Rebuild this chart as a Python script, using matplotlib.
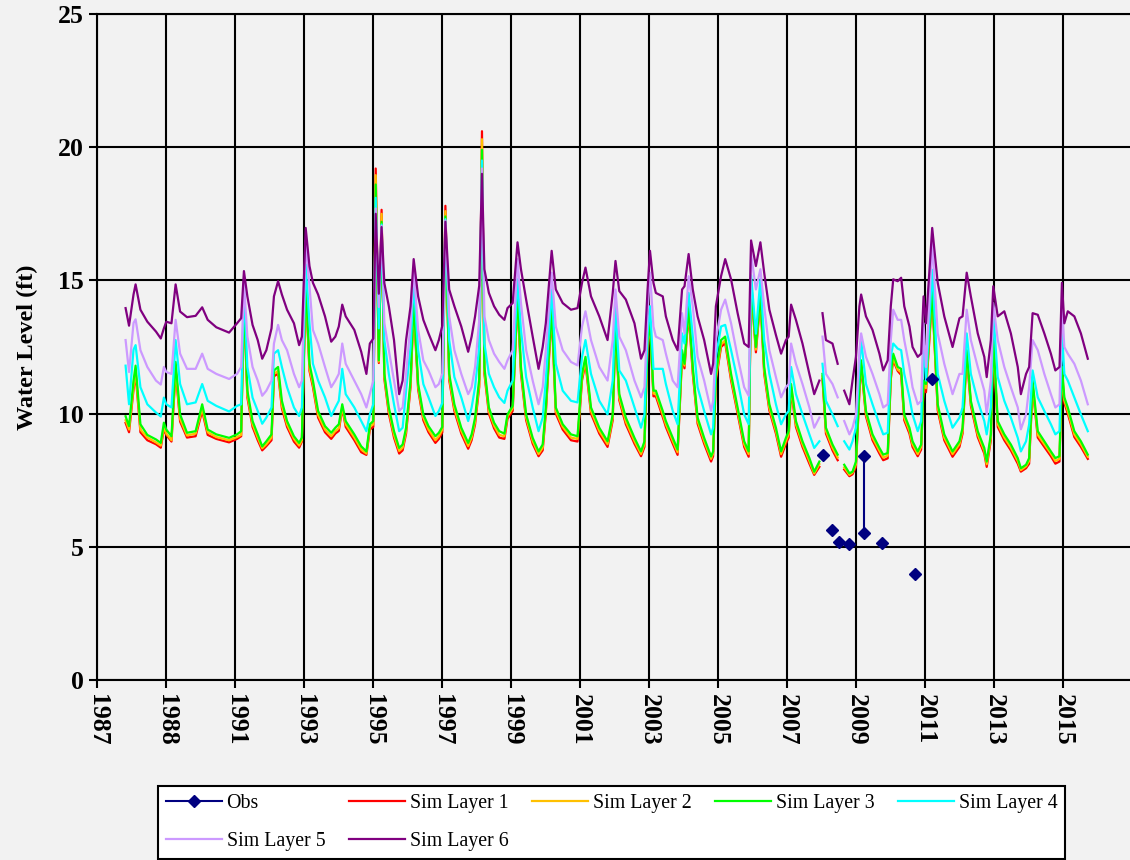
import numpy as np
import matplotlib
matplotlib.use("Agg")
import matplotlib.pyplot as plt

nan = np.nan

dates = [1987.82, 1987.92, 1988.05, 1988.11, 1988.25, 1988.45, 1988.70, 1988.84, 1988.93, 1989.00,
         1989.15, 1989.27, 1989.40, 1989.60, 1989.85, 1990.04, 1990.20, 1990.45, 1990.82, 1991.05,
         1991.17, 1991.25, 1991.35, 1991.50, 1991.65, 1991.78, 1991.90, 1992.05, 1992.12, 1992.24,
         1992.35, 1992.50, 1992.70, 1992.85, 1992.93, 1993.04, 1993.15, 1993.25, 1993.40, 1993.60,
         1993.78, 1993.90, 1994.00, 1994.10, 1994.20, 1994.45, 1994.65, 1994.80, 1994.90, 1995.00,
         1995.07, 1995.16, 1995.24, 1995.32, 1995.45, 1995.60, 1995.75, 1995.85, 1995.95, 1996.08,
         1996.17, 1996.30, 1996.45, 1996.60, 1996.80, 1996.90, 1997.00, 1997.09, 1997.20, 1997.35,
         1997.55, 1997.75, 1997.85, 1997.95, 1998.07, 1998.15, 1998.22, 1998.35, 1998.50, 1998.65,
         1998.80, 1998.89, 1999.04, 1999.18, 1999.28, 1999.43, 1999.62, 1999.79, 1999.91, 2000.00,
         2000.17, 2000.29, 2000.49, 2000.73, 2000.92, 2001.05, 2001.15, 2001.31, 2001.55, 2001.79,
         2001.94, 2002.02, 2002.13, 2002.32, 2002.57, 2002.76, 2002.86, 2002.95, 2003.02, 2003.12,
         2003.19, 2003.39, 2003.48, 2003.68, 2003.82, 2003.95, 2004.02, 2004.14, 2004.26, 2004.40,
         2004.59, 2004.79, 2004.85, 2004.93, 2005.08, 2005.20, 2005.37, 2005.56, 2005.75, 2005.88,
         2005.95, 2006.09, 2006.22, 2006.33, 2006.48, 2006.67, 2006.82, 2006.96, 2007.04, 2007.11,
         2007.25, 2007.44, 2007.64, 2007.78, 2007.93, 2007.97, 2008.02, 2008.12, 2008.31, 2008.46,
         2008.52, 2008.65, 2008.80, 2008.89, 2008.99, 2009.09, 2009.14, 2009.28, 2009.47, 2009.67,
         2009.78, 2009.91, 2010.00, 2010.07, 2010.20, 2010.30, 2010.39, 2010.54, 2010.63, 2010.78,
         2010.88, 2010.95, 2011.02, 2011.20, 2011.36, 2011.55, 2011.79, 2011.99, 2012.08, 2012.20,
         2012.32, 2012.52, 2012.71, 2012.78, 2012.90, 2012.97, 2013.10, 2013.29, 2013.48, 2013.68,
         2013.77, 2013.92, 2014.01, 2014.11, 2014.26, 2014.45, 2014.64, 2014.77, 2014.89, 2014.96,
         2015.03, 2015.13, 2015.32, 2015.51, 2015.71]

layer1 = [9.65, 9.30, 10.90, 11.50, 9.30, 9.00, 8.85, 8.72, 9.42, 9.20,
          8.95, 11.60, 9.70, 9.10, 9.15, 10.10, 9.20, 9.05, 8.92, 9.05,
          9.15, 14.20, 10.60, 9.50, 9.00, 8.62, 8.78, 9.00, 11.40, 11.50,
          10.20, 9.50, 8.95, 8.72, 8.95, 14.80, 11.60, 11.00, 9.85, 9.30,
          9.05, 9.25, 9.35, 10.20, 9.50, 9.00, 8.55, 8.45, 9.40, 9.50,
          19.20, 11.90, 17.65, 11.30, 10.00, 9.10, 8.50, 8.62, 9.25, 11.00,
          14.00, 10.90, 9.75, 9.30, 8.90, 9.05, 9.30, 17.80, 11.25, 10.10,
          9.25, 8.68, 9.00, 9.60, 11.00, 20.60, 11.50, 10.00, 9.45, 9.10,
          9.05, 9.80, 10.10, 14.30, 11.50, 9.75, 8.87, 8.40, 8.62, 10.00,
          13.80, 10.00, 9.40, 9.00, 8.95, 11.25, 11.90, 10.00, 9.25, 8.75,
          9.75, 13.15, 10.50, 9.60, 8.87, 8.40, 8.75, 12.60, 13.20, 10.65,
          10.65, 9.87, 9.50, 8.87, 8.45, 12.15, 11.70, 13.80, 11.50, 9.62,
          8.87, 8.20, 8.40, 11.25, 12.50, 12.65, 11.25, 10.00, 8.75, 8.38,
          14.80, 12.30, 14.30, 11.50, 10.12, 9.25, 8.38, 8.87, 9.10, 10.90,
          9.50, 8.75, 8.12, 7.70, 8.00, nan, 11.30, 9.25, 8.62, 8.25,
          nan, 7.90, 7.65, 7.72, 8.00, 10.80, 11.80, 9.90, 9.00, 8.50,
          8.25, 8.32, 11.30, 12.00, 11.60, 11.45, 9.75, 9.25, 8.75, 8.40,
          8.65, 11.00, 10.80, 14.40, 10.12, 9.00, 8.38, 8.75, 9.25, 12.15,
          10.30, 9.12, 8.50, 8.00, 9.00, 12.65, 9.50, 9.00, 8.62, 8.12,
          7.82, 7.95, 8.12, 11.00, 9.10, 8.75, 8.40, 8.12, 8.20, 11.50,
          10.40, 10.00, 9.12, 8.75, 8.30]

layer2 = [9.75, 9.40, 11.00, 11.60, 9.40, 9.10, 8.92, 8.80, 9.50, 9.25,
          9.00, 11.70, 9.80, 9.18, 9.25, 10.20, 9.30, 9.12, 9.00, 9.12,
          9.20, 14.30, 10.70, 9.60, 9.10, 8.70, 8.85, 9.10, 11.50, 11.60,
          10.30, 9.60, 9.05, 8.80, 9.00, 14.90, 11.70, 11.10, 9.95, 9.40,
          9.15, 9.35, 9.45, 10.25, 9.60, 9.10, 8.65, 8.50, 9.50, 9.60,
          18.95, 11.95, 17.50, 11.40, 10.10, 9.20, 8.60, 8.72, 9.35, 11.10,
          14.10, 11.00, 9.85, 9.40, 9.00, 9.15, 9.40, 17.60, 11.35, 10.20,
          9.35, 8.78, 9.10, 9.70, 11.10, 20.30, 11.60, 10.10, 9.55, 9.20,
          9.15, 9.90, 10.20, 14.40, 11.60, 9.85, 8.97, 8.48, 8.72, 10.10,
          13.90, 10.10, 9.50, 9.10, 9.05, 11.35, 12.00, 10.10, 9.35, 8.85,
          9.85, 13.25, 10.60, 9.70, 8.97, 8.48, 8.85, 12.70, 13.30, 10.75,
          10.75, 9.97, 9.60, 8.97, 8.55, 12.25, 11.80, 13.90, 11.60, 9.72,
          8.97, 8.30, 8.50, 11.35, 12.60, 12.75, 11.35, 10.10, 8.85, 8.48,
          14.90, 12.40, 14.40, 11.60, 10.22, 9.35, 8.48, 8.97, 9.22, 11.00,
          9.60, 8.85, 8.22, 7.75, 8.10, nan, 11.40, 9.35, 8.72, 8.35,
          nan, 7.98, 7.70, 7.78, 8.10, 10.90, 11.90, 10.00, 9.10, 8.60,
          8.35, 8.42, 11.40, 12.10, 11.65, 11.55, 9.85, 9.35, 8.85, 8.48,
          8.75, 11.10, 10.95, 14.50, 10.22, 9.10, 8.48, 8.85, 9.35, 12.25,
          10.40, 9.22, 8.60, 8.10, 9.10, 12.75, 9.60, 9.10, 8.72, 8.22,
          7.88, 8.02, 8.22, 11.10, 9.20, 8.85, 8.50, 8.22, 8.30, 11.60,
          10.50, 10.10, 9.22, 8.85, 8.38]

layer3 = [9.90, 9.53, 11.24, 11.80, 9.60, 9.20, 9.03, 8.90, 9.66, 9.40,
          9.15, 11.94, 9.97, 9.28, 9.34, 10.35, 9.40, 9.22, 9.09, 9.22,
          9.34, 14.40, 10.86, 9.72, 9.22, 8.77, 8.96, 9.22, 11.62, 11.75,
          10.48, 9.72, 9.15, 8.90, 9.10, 15.00, 11.87, 11.24, 10.10, 9.53,
          9.28, 9.47, 9.60, 10.35, 9.72, 9.22, 8.77, 8.58, 9.60, 9.72,
          18.60, 12.00, 17.20, 11.50, 10.23, 9.34, 8.71, 8.84, 9.47, 11.24,
          14.28, 11.11, 9.97, 9.53, 9.15, 9.28, 9.50, 17.40, 11.49, 10.35,
          9.47, 8.90, 9.22, 9.85, 11.30, 19.90, 11.75, 10.23, 9.66, 9.34,
          9.25, 9.97, 10.29, 14.53, 11.75, 9.97, 9.09, 8.58, 8.84, 10.23,
          14.03, 10.23, 9.60, 9.22, 9.15, 11.49, 12.13, 10.23, 9.47, 8.96,
          9.97, 13.39, 10.73, 9.85, 9.09, 8.58, 8.96, 12.76, 13.39, 10.86,
          10.86, 10.10, 9.72, 9.09, 8.65, 12.38, 11.87, 14.03, 11.75, 9.85,
          9.09, 8.39, 8.58, 11.49, 12.76, 12.89, 11.49, 10.23, 8.96, 8.58,
          15.00, 12.50, 14.53, 11.75, 10.35, 9.47, 8.58, 9.09, 9.34, 11.11,
          9.72, 8.96, 8.33, 7.82, 8.20, nan, 11.49, 9.47, 8.84, 8.46,
          nan, 8.08, 7.76, 7.82, 8.20, 10.99, 12.00, 10.10, 9.22, 8.71,
          8.46, 8.52, 11.49, 12.25, 11.75, 11.68, 9.97, 9.47, 8.96, 8.58,
          8.84, 11.24, 11.11, 14.60, 10.35, 9.22, 8.58, 8.96, 9.47, 12.38,
          10.48, 9.34, 8.71, 8.20, 9.22, 12.89, 9.72, 9.22, 8.84, 8.33,
          7.95, 8.08, 8.33, 11.24, 9.34, 8.96, 8.58, 8.33, 8.40, 11.75,
          10.61, 10.23, 9.34, 8.96, 8.46]

layer4 = [11.80, 10.35, 12.40, 12.57, 10.99, 10.35, 10.04, 9.89, 10.60, 10.35,
          10.23, 12.76, 11.11, 10.35, 10.42, 11.11, 10.48, 10.29, 10.08, 10.29,
          10.35, 14.70, 11.75, 10.60, 10.10, 9.62, 9.85, 10.23, 12.25, 12.38,
          11.75, 10.99, 10.23, 9.91, 10.23, 15.60, 13.39, 11.87, 11.24, 10.61,
          9.91, 10.23, 10.48, 11.68, 10.73, 10.23, 9.72, 9.34, 9.97, 10.35,
          18.10, 13.20, 17.10, 12.76, 11.49, 10.35, 9.34, 9.47, 10.86, 12.50,
          14.91, 12.38, 11.11, 10.61, 9.91, 10.10, 10.40, 17.30, 12.76, 11.37,
          10.61, 9.72, 10.23, 10.99, 12.50, 19.50, 12.63, 11.49, 10.99, 10.61,
          10.40, 10.86, 11.24, 15.04, 13.14, 11.37, 10.23, 9.34, 9.85, 11.24,
          14.66, 11.87, 10.86, 10.48, 10.42, 12.13, 12.76, 11.49, 10.48, 9.97,
          11.24, 14.03, 11.62, 11.24, 10.23, 9.47, 9.97, 13.01, 14.03, 11.68,
          11.68, 11.68, 11.11, 10.10, 9.60, 13.01, 12.63, 14.53, 12.89, 10.99,
          10.10, 9.22, 9.47, 12.13, 13.27, 13.33, 12.38, 11.24, 9.97, 9.60,
          15.20, 13.00, 15.04, 12.76, 11.49, 10.35, 9.60, 9.97, 10.10, 11.75,
          10.73, 9.97, 9.22, 8.71, 8.96, nan, 11.87, 10.48, 9.97, 9.53,
          nan, 8.96, 8.65, 8.96, 9.47, 11.75, 12.76, 11.11, 10.35, 9.60,
          9.22, 9.28, 12.13, 12.63, 12.44, 12.38, 11.49, 10.61, 9.97, 9.34,
          9.72, 12.76, 11.24, 15.40, 11.49, 10.48, 9.47, 9.85, 10.23, 13.01,
          11.49, 10.48, 9.72, 9.22, 10.23, 13.77, 11.37, 10.48, 9.85, 9.09,
          8.58, 8.96, 9.60, 11.62, 10.61, 10.10, 9.60, 9.22, 9.34, 13.01,
          11.49, 11.24, 10.61, 9.97, 9.34]

layer5 = [12.76, 11.56, 13.40, 13.54, 12.38, 11.75, 11.24, 11.09, 11.75, 11.56,
          11.49, 13.52, 12.25, 11.68, 11.68, 12.25, 11.68, 11.49, 11.30, 11.49,
          11.75, 14.90, 12.89, 11.75, 11.24, 10.67, 10.86, 11.24, 12.63, 13.33,
          12.76, 12.38, 11.49, 10.99, 11.24, 16.50, 14.78, 13.14, 12.63, 11.75,
          10.99, 11.24, 11.49, 12.63, 11.87, 11.24, 10.73, 10.23, 10.73, 11.24,
          17.70, 14.00, 17.05, 13.40, 12.38, 11.24, 10.10, 10.23, 11.49, 13.40,
          15.42, 13.14, 12.00, 11.62, 10.99, 11.11, 11.50, 17.25, 13.65, 12.38,
          11.49, 10.73, 10.99, 11.75, 13.50, 19.20, 13.65, 12.76, 12.25, 11.94,
          11.68, 12.00, 12.38, 15.80, 14.15, 12.38, 11.24, 10.35, 10.99, 12.38,
          15.29, 13.27, 12.38, 11.94, 11.81, 13.27, 13.84, 12.76, 11.75, 11.24,
          12.76, 14.66, 12.89, 12.38, 11.24, 10.61, 10.99, 13.77, 15.29, 13.27,
          12.89, 12.76, 12.25, 11.24, 10.99, 13.77, 13.01, 15.16, 14.03, 12.13,
          11.24, 10.10, 10.48, 12.76, 13.90, 14.28, 13.39, 12.13, 10.99, 10.67,
          16.00, 14.66, 15.42, 14.03, 12.38, 11.37, 10.61, 10.99, 11.11, 12.63,
          11.87, 11.11, 10.23, 9.47, 9.85, nan, 12.89, 11.49, 11.11, 10.61,
          nan, 9.72, 9.22, 9.47, 9.97, 12.38, 13.01, 12.13, 11.49, 10.73,
          10.23, 10.35, 12.76, 13.90, 13.52, 13.52, 12.76, 11.75, 10.99, 10.35,
          10.48, 13.39, 11.75, 16.40, 13.01, 11.87, 10.73, 11.49, 11.49, 13.90,
          12.76, 11.75, 10.86, 9.97, 11.24, 14.15, 12.76, 11.75, 10.99, 10.23,
          9.41, 9.97, 10.99, 12.76, 12.38, 11.49, 10.73, 10.23, 10.35, 14.03,
          12.50, 12.25, 11.87, 11.24, 10.35]

layer6 = [13.96, 13.30, 14.47, 14.85, 13.90, 13.45, 13.08, 12.82, 13.20, 13.45,
          13.39, 14.85, 13.83, 13.62, 13.67, 13.99, 13.52, 13.24, 13.04, 13.39,
          13.58, 15.35, 14.40, 13.33, 12.76, 12.06, 12.38, 13.20, 14.40, 14.97,
          14.47, 13.90, 13.39, 12.57, 12.89, 16.97, 15.54, 14.91, 14.47, 13.65,
          12.70, 12.89, 13.27, 14.09, 13.65, 13.14, 12.32, 11.49, 12.63, 12.82,
          17.50, 14.50, 17.00, 14.90, 14.03, 12.76, 10.73, 11.24, 12.76, 14.03,
          15.80, 14.40, 13.52, 13.01, 12.38, 12.76, 13.30, 17.20, 14.66, 14.03,
          13.27, 12.32, 12.89, 13.65, 14.80, 19.00, 15.42, 14.53, 14.03, 13.71,
          13.52, 13.96, 14.15, 16.43, 15.42, 14.28, 12.89, 11.68, 12.50, 13.39,
          16.11, 14.66, 14.15, 13.90, 13.96, 14.91, 15.48, 14.40, 13.65, 12.76,
          14.53, 15.73, 14.60, 14.28, 13.39, 12.06, 12.38, 14.66, 16.11, 14.91,
          14.53, 14.40, 13.65, 12.76, 12.38, 14.66, 14.78, 15.99, 14.66, 13.65,
          12.76, 11.49, 11.87, 14.03, 15.16, 15.80, 15.04, 13.77, 12.63, 12.50,
          16.50, 15.54, 16.43, 15.29, 13.90, 12.95, 12.25, 12.76, 12.89, 14.09,
          13.52, 12.63, 11.49, 10.73, 11.24, nan, 13.77, 12.76, 12.63, 11.87,
          nan, 10.86, 10.35, 11.24, 12.13, 14.03, 14.47, 13.65, 13.14, 12.25,
          11.62, 12.00, 14.03, 15.04, 14.97, 15.10, 14.03, 13.27, 12.50, 12.13,
          12.25, 14.40, 13.39, 16.97, 14.91, 13.65, 12.50, 13.58, 13.65, 15.29,
          14.40, 13.01, 12.13, 11.37, 12.76, 14.78, 13.65, 13.84, 13.01, 11.75,
          10.73, 11.49, 11.75, 13.77, 13.71, 13.01, 12.25, 11.62, 11.75, 14.91,
          13.39, 13.84, 13.65, 13.01, 12.06]

obs_dates = [2008.04, 2008.16, 2008.29, 2008.40, 2008.51, 2008.65, 2008.80, 2009.00,
             2009.22, 2009.22, 2009.50, 2009.74, 2010.20, 2010.70, 2010.95, 2011.19]
obs_values = [8.45, nan, 5.64, nan, 5.17, nan, 5.10, nan,
              8.39, 5.51, nan, 5.14, nan, 3.97, nan, 11.30]

series_names = ["Sim Layer 1", "Sim Layer 2", "Sim Layer 3",
                "Sim Layer 4", "Sim Layer 5", "Sim Layer 6"]
series_values = [layer1, layer2, layer3, layer4, layer5, layer6]
series_colors = ["#FF0000", "#FFC000", "#00FF00", "#00FFFF", "#CC99FF", "#800080"]

tick_years = list(range(1987, 2016, 2))
tick_labels = ["1987", "1988", "1991", "1993", "1995", "1997", "1999", "2001",
               "2003", "2005", "2007", "2009", "2011", "2013", "2015"]
y_ticks = [0, 5, 10, 15, 20, 25]

bg = "#F2F2F2"
fig = plt.figure(figsize=(11.3, 8.6), dpi=100, facecolor=bg)
ax = fig.add_axes([97.3 / 1130, 180 / 860, 1035 / 1130, 666 / 860], facecolor=bg)

handles = {}
for name, vals, col in zip(series_names, series_values, series_colors):
    ln, = ax.plot(dates, vals, color=col, lw=1.6, label=name, zorder=3)
    handles[name] = ln
obs_ln, = ax.plot(obs_dates, obs_values, color="#000080", lw=1.5, marker="D",
                  markersize=6, label="Obs", zorder=5)
handles["Obs"] = obs_ln

ax.set_xlim(1987, 2017)
ax.set_ylim(0, 25)
ax.set_xticks(tick_years)
ax.set_xticklabels(tick_labels, rotation=-90, fontfamily="Liberation Serif",
                   fontweight="bold", fontsize=18.5)
ax.set_yticks(y_ticks)
ax.set_yticklabels([str(v) for v in y_ticks], fontfamily="Liberation Serif",
                   fontweight="bold", fontsize=18.5)
ax.tick_params(axis="both", direction="out", length=6, width=1.5, color="black")
ax.tick_params(axis="x", pad=4)
ax.tick_params(axis="y", pad=4)
ax.grid(True, color="black", lw=1.5, zorder=1)
ax.set_axisbelow(True)
for side in ["left", "bottom", "top"]:
    ax.spines[side].set_linewidth(1.5)
    ax.spines[side].set_color("black")
ax.spines["right"].set_visible(False)

ax.set_ylabel("Water Level (ft)", fontfamily="Liberation Serif", fontweight="bold",
              fontsize=17.5, labelpad=14)

order = ["Obs", "Sim Layer 5", "Sim Layer 1", "Sim Layer 6",
         "Sim Layer 2", "Sim Layer 3", "Sim Layer 4"]
leg = fig.legend([handles[n] for n in order], order, loc="upper left",
                 bbox_to_anchor=(158 / 1130, 1 - 786 / 860), ncol=5,
                 prop={"family": "Liberation Serif", "size": 14.3},
                 frameon=True, fancybox=False, edgecolor="black", facecolor="white",
                 framealpha=1, handlelength=2.8, handletextpad=0.25,
                 columnspacing=1.2, labelspacing=0.95, borderpad=0.4,
                 borderaxespad=0, numpoints=1)
leg.get_frame().set_linewidth(1.5)

fig.savefig("out.png", dpi=100, facecolor=bg)
